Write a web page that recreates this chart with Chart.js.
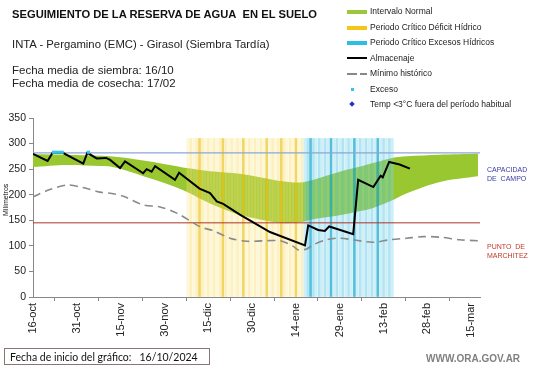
<!DOCTYPE html>
<html>
<head>
<meta charset="utf-8">
<script src="https://cdn.jsdelivr.net/npm/chart.js@4.4.1/dist/chart.umd.min.js"></script>
<style>
  body { margin: 0; background: #fff; }
  #wrap { position: relative; width: 541px; height: 368px; overflow: hidden; font-family: "Liberation Sans", Arial, sans-serif; color: #111; }
  #wrap canvas { position: absolute; left: 0; top: 0; }
  .t { position: absolute; white-space: nowrap; line-height: 1; }
  .leg { position: absolute; left: 370px; font-size: 8.5px; color: #222; white-space: nowrap; line-height: 1; }
  .sw { position: absolute; left: 347px; width: 20px; height: 4px; }
</style>
</head>
<body>
<div id="wrap">
  <canvas id="chart" width="541" height="368"></canvas>

  <div class="t" style="left:12px; top:9px; font-size:11.2px; font-weight:bold;">SEGUIMIENTO DE LA RESERVA DE AGUA&nbsp; EN EL SUELO</div>
  <div class="t" style="left:12px; top:39px; font-size:11.3px; color:#222;">INTA - Pergamino (EMC) - Girasol (Siembra Tardía)</div>
  <div class="t" style="left:12px; top:65px; font-size:11.5px; color:#222;">Fecha media de siembra: 16/10</div>
  <div class="t" style="left:12px; top:78px; font-size:11.5px; color:#222;">Fecha media de cosecha: 17/02</div>

  <!-- legend -->
  <div class="sw" style="top:10px; background:#9bc83a;"></div>
  <div class="leg" style="top:7px;">Intervalo Normal</div>
  <div class="sw" style="top:26px; background:#f5c518;"></div>
  <div class="leg" style="top:23px;">Periodo Crítico Déficit Hídrico</div>
  <div class="sw" style="top:41px; background:#2bbfe6;"></div>
  <div class="leg" style="top:38px;">Periodo Crítico Excesos Hídricos</div>
  <div class="sw" style="top:57px; height:2px; background:#000;"></div>
  <div class="leg" style="top:54px;">Almacenaje</div>
  <div class="sw" style="top:73px; height:2px; width:10px; background:#888;"></div>
  <div class="sw" style="top:73px; height:2px; width:7px; left:360px; background:#888;"></div>
  <div class="leg" style="top:69px;">Mínimo histórico</div>
  <div class="sw" style="top:88px; left:351px; width:3px; height:3px; background:#33c6ea;"></div>
  <div class="leg" style="top:85px;">Exceso</div>
  <div class="sw" style="top:102px; left:350px; width:4px; height:4px; background:#1f3ab8; transform:rotate(45deg);"></div>
  <div class="leg" style="top:100px;">Temp &lt;3°C fuera del período habitual</div>

  <!-- side labels -->
  <div class="t" style="left:487px; top:165px; font-size:7px; color:#3a3aa6; line-height:9px;">CAPACIDAD<br>DE&nbsp; CAMPO</div>
  <div class="t" style="left:487px; top:242px; font-size:7px; color:#c0392b; line-height:9px;">PUNTO&nbsp; DE<br>MARCHITEZ</div>

  <div class="t" style="left:2px; top:216px; font-size:7px; color:#222; transform:rotate(-90deg); transform-origin:0 0;">Milímetros</div>

  <div class="t" style="left:4px; top:348px; width:206px; height:17px; border:1px solid #8a7474; font-family:Lato, sans-serif; font-size:10.5px; line-height:17px; padding-left:5px; box-sizing:border-box;">Fecha de inicio del gráfico:&nbsp;&nbsp; 16/10/2024</div>
  <div class="t" style="left:426px; top:354px; font-size:10px; font-weight:bold; color:#808080;">WWW.ORA.GOV.AR</div>
</div>

<script>
// Days counted from 16-oct (day 0)
const xTickDays = [0, 15, 30, 45, 60, 75, 90, 105, 120, 135, 150];
const xTickLabels = ['16-oct', '31-oct', '15-nov', '30-nov', '15-dic', '30-dic', '14-ene', '29-ene', '13-feb', '28-feb', '15-mar'];

// Intervalo normal (green band)
const bandDays  = [0, 11.6, 22.9, 26.4, 33.2, 40, 46.9, 52.6, 60.6, 70.8, 84.5, 91.4, 95.8, 105, 112, 116.4, 122.2, 128, 139.3, 152.3];
const bandUpper = [279, 278, 276, 275, 271, 265, 258, 252, 246, 241, 227, 224, 229, 245, 255, 262, 271, 275, 278, 280];
const bandLower = [254, 258, 256, 255, 245, 232, 219, 206, 183, 161, 145, 146, 152, 160, 168, 174, 187, 203, 225, 236];

// Almacenaje
const almDays = [0, 5, 6.7, 10.2, 17.2, 18.6, 21.8, 25, 26.4, 29.8, 31.5, 37.7, 38.9, 40.6, 41.8, 48.6, 50, 57, 60.6, 62.9, 65.1, 70.8, 74.8, 81.1, 93.1, 94.2, 97.6, 99.9, 101.4, 109.6, 111.3, 116.5, 119, 119.7, 121.9, 125.5, 129];
const almVals = [280, 266, 282, 282, 261, 282, 271, 272, 268, 252, 265, 242, 250, 245, 256, 229, 243, 212, 203, 187, 182, 161, 148, 127, 101, 140, 131, 129, 138, 123, 229, 215, 237, 234, 264, 259, 251];

// Minimo historico
const minDays = [0, 5.8, 11.6, 17.1, 22.9, 26.4, 30.9, 37.7, 43.5, 49.2, 56, 58.2, 61.6, 67.4, 73.2, 84.5, 89.1, 90.8, 93.7, 95.9, 100.5, 105, 116.4, 122.2, 128, 133.5, 139.3, 146, 152.3];
const minVals = [196, 210, 219, 214, 205, 203, 197, 180, 176, 164, 141, 135, 130, 115, 109, 110, 99, 92, 94, 102, 112, 115, 107, 112, 115, 118, 117, 112, 110];

// Exceso points
const excesoDays = [7, 8, 9, 10, 19];
const excesoVals = [283, 283, 283, 283, 283];

// Reference levels
const capacidadCampo = 282;
const puntoMarchitez = 145;

// Critical periods (first and last day) and bar height
const deficitPeriod = [53, 92];
const excesoPeriod = [93, 123];
const periodTop = 310;

const X_MAX = 153;

function pts(days, vals) {
    return days.map((d, i) => ({ x: d, y: vals[i] }));
}

// darker stripes, only for looks
const darkDays = [57, 65, 72, 80, 85, 90, 95, 102, 110, 118];

const periodBars = [];
const periodColors = [];
for (let d = deficitPeriod[0]; d <= deficitPeriod[1]; d++) {
    periodBars.push({ x: d, y: periodTop });
    periodColors.push(darkDays.includes(d) ? 'rgba(238,196,30,0.7)' : (d % 2 ? 'rgba(250,232,140,0.35)' : 'rgba(247,222,110,0.45)'));
}
for (let d = excesoPeriod[0]; d <= excesoPeriod[1]; d++) {
    periodBars.push({ x: d, y: periodTop });
    periodColors.push(darkDays.includes(d) ? 'rgba(25,170,210,0.75)' : (d % 2 ? 'rgba(125,212,235,0.38)' : 'rgba(90,198,228,0.48)'));
}

const ctx = document.getElementById('chart').getContext('2d');
new Chart(ctx, {
    type: 'line',
    data: {
        datasets: [
            {
                label: 'upper',
                data: pts(bandDays, bandUpper),
                borderWidth: 0,
                pointRadius: 0,
                tension: 0.3,
                backgroundColor: '#99c730',
                fill: '+1',
                order: 10
            },
            {
                label: 'lower',
                data: pts(bandDays, bandLower),
                borderWidth: 0,
                pointRadius: 0,
                tension: 0.3,
                fill: false,
                order: 11
            },
            {
                type: 'bar',
                label: 'periodos',
                data: periodBars,
                backgroundColor: periodColors,
                barThickness: 2,
                order: 9
            },
            {
                label: 'capacidad',
                data: [{ x: 0, y: capacidadCampo }, { x: X_MAX, y: capacidadCampo }],
                borderColor: '#8ea6d8',
                borderWidth: 1.2,
                pointRadius: 0,
                order: 8
            },
            {
                label: 'marchitez',
                data: [{ x: 0, y: puntoMarchitez }, { x: X_MAX, y: puntoMarchitez }],
                borderColor: '#b0342a',
                borderWidth: 1,
                pointRadius: 0,
                order: 8
            },
            {
                label: 'Mínimo histórico',
                data: pts(minDays, minVals),
                borderColor: '#8a8a8a',
                borderWidth: 1.6,
                borderDash: [8, 5],
                pointRadius: 0,
                tension: 0.3,
                order: 5
            },
            {
                label: 'Almacenaje',
                data: pts(almDays, almVals),
                borderColor: '#000',
                borderWidth: 2,
                pointRadius: 0,
                tension: 0,
                order: 2
            },
            {
                label: 'Exceso',
                data: pts(excesoDays, excesoVals),
                showLine: false,
                pointStyle: 'rect',
                pointRadius: 2.2,
                pointBackgroundColor: '#33c6ea',
                pointBorderWidth: 0,
                order: 1
            }
        ]
    },
    options: {
        responsive: false,
        animation: false,
        layout: { padding: { top: 118, right: 61, left: 0, bottom: 0 } },
        plugins: {
            legend: { display: false },
            tooltip: { enabled: false }
        },
        scales: {
            x: {
                type: 'linear',
                min: 0,
                max: X_MAX,
                offset: false,
                afterBuildTicks: s => { s.ticks = xTickDays.map(v => ({ value: v })); },
                afterFit: s => { s.height = 71; },
                grid: { drawOnChartArea: false, drawTicks: true, tickLength: 4, color: '#888' },
                border: { color: '#888', width: 1 },
                ticks: {
                    autoSkip: false,
                    minRotation: 90,
                    maxRotation: 90,
                    padding: 2,
                    color: '#222',
                    font: { family: 'Liberation Sans', size: 11 },
                    callback: v => xTickLabels[xTickDays.indexOf(v)]
                }
            },
            y: {
                min: 0,
                max: 350,
                afterFit: s => { s.width = 33; },
                grid: { drawOnChartArea: false, drawTicks: true, tickLength: 4, color: '#888' },
                border: { color: '#888', width: 1 },
                ticks: {
                    stepSize: 50,
                    padding: 3,
                    color: '#222',
                    font: { family: 'Liberation Sans', size: 10.5 }
                }
            }
        }
    }
});
</script>
</body>
</html>
